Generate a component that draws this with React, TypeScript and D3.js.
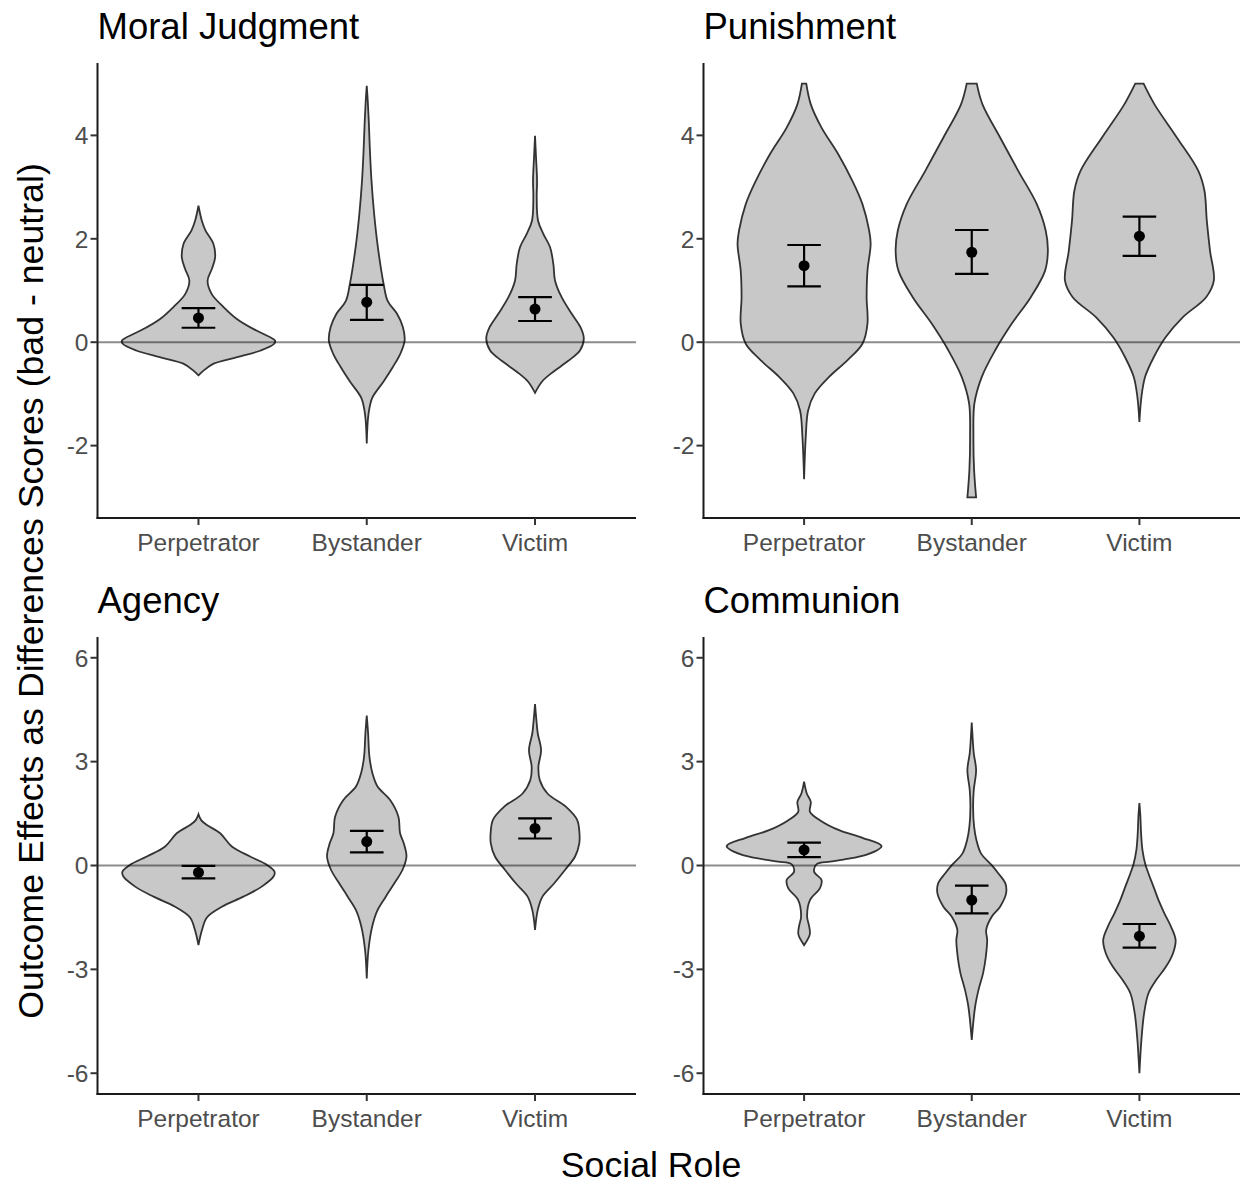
import * as d3 from 'd3';

// Social roles (x categories)
const roles = ['Perpetrator', 'Bystander', 'Victim'];
const panelTitles = ['Moral Judgment', 'Punishment', 'Agency', 'Communion'];

// y-axis ticks / data limits per row
const topTicks = [-2, 0, 2, 4];
const bottomTicks = [-6, -3, 0, 3, 6];
const topLimits = [-3, 5];
const bottomLimits = [-6, 6];

// means and error bar bounds, one value per role
const moralMeans = [0.47, 0.775, 0.64];
const moralLower = [0.28, 0.43, 0.41];
const moralUpper = [0.66, 1.11, 0.87];
const punishMeans = [1.48, 1.74, 2.05];
const punishLower = [1.08, 1.32, 1.67];
const punishUpper = [1.88, 2.17, 2.43];
const agencyMeans = [-0.2, 0.69, 1.07];
const agencyLower = [-0.37, 0.38, 0.78];
const agencyUpper = [-0.01, 1.0, 1.36];
const communionMeans = [0.45, -1.0, -2.04];
const communionLower = [0.24, -1.38, -2.37];
const communionUpper = [0.66, -0.58, -1.69];

// violin profiles: [score, half width as a share of the category step]
const moralPerp = [[-0.64, 0], [-0.55, 0.03], [-0.415, 0.09], [-0.29, 0.23], [-0.16, 0.37], [-0.03, 0.45], [0.03, 0.455], [0.16, 0.386], [0.22, 0.347], [0.45, 0.228], [0.68, 0.149], [0.93, 0.079], [1.19, 0.054], [1.42, 0.08], [1.64, 0.099], [1.9, 0.089], [2.16, 0.042], [2.35, 0.02], [2.64, 0]];
const moralBystander = [[-1.96, 0], [-1.4, 0.01], [-1.08, 0.032], [-0.76, 0.1], [-0.48, 0.155], [-0.22, 0.2], [0.03, 0.225], [0.29, 0.215], [0.55, 0.18], [0.8, 0.124], [1.13, 0.1], [1.84, 0.066], [2.48, 0.044], [3.13, 0.028], [3.77, 0.018], [4.28, 0.012], [4.67, 0.006], [4.96, 0]];
const moralVictim = [[-0.98, 0], [-0.76, 0.042], [-0.57, 0.109], [-0.36, 0.198], [-0.16, 0.267], [0.07, 0.29], [0.29, 0.27], [0.55, 0.218], [0.87, 0.158], [1.19, 0.119], [1.51, 0.109], [1.84, 0.089], [2.09, 0.05], [2.35, 0.018], [2.8, 0.01], [3.13, 0.012], [3.57, 0.006], [3.99, 0]];

const punishPerp = [[-2.65, 0], [-1.83, 0.01], [-1.32, 0.024], [-0.99, 0.064], [-0.67, 0.149], [-0.35, 0.258], [-0.03, 0.348], [0.36, 0.378], [0.87, 0.373], [1.38, 0.378], [1.9, 0.397], [2.16, 0.388], [2.67, 0.348], [3.12, 0.288], [3.64, 0.203], [4.15, 0.104], [4.6, 0.04], [5.0, 0.013]];
const punishBystander = [[-3.0, 0.026], [-2.47, 0.014], [-1.83, 0.01], [-1.18, 0.016], [-0.67, 0.06], [-0.16, 0.139], [0.36, 0.239], [0.87, 0.352], [1.38, 0.437], [1.77, 0.454], [2.16, 0.441], [2.67, 0.388], [3.31, 0.278], [3.96, 0.169], [4.6, 0.064], [5.0, 0.03]];
const punishVictim = [[-1.54, 0], [-1.06, 0.012], [-0.67, 0.034], [-0.3, 0.084], [0.09, 0.155], [0.48, 0.258], [0.87, 0.398], [1.19, 0.444], [1.77, 0.421], [2.35, 0.402], [2.93, 0.388], [3.31, 0.352], [3.96, 0.223], [4.6, 0.09], [5.0, 0.025]];

const agencyPerp = [[-2.3, 0], [-1.88, 0.02], [-1.5, 0.05], [-1.19, 0.139], [-0.9, 0.267], [-0.61, 0.376], [-0.32, 0.446], [-0.18, 0.452], [0.02, 0.406], [0.26, 0.307], [0.55, 0.198], [0.93, 0.129], [1.17, 0.05], [1.31, 0.016], [1.48, 0]];
const agencyBystander = [[-3.26, 0], [-2.44, 0.01], [-1.77, 0.032], [-1.29, 0.064], [-0.9, 0.113], [-0.52, 0.163], [-0.13, 0.212], [0.26, 0.236], [0.64, 0.22], [0.93, 0.198], [1.41, 0.188], [1.89, 0.139], [2.28, 0.064], [2.66, 0.034], [3.14, 0.016], [3.82, 0.008], [4.33, 0]];
const agencyVictim = [[-1.86, 0], [-1.29, 0.016], [-0.9, 0.044], [-0.52, 0.113], [-0.13, 0.178], [0.26, 0.238], [0.64, 0.263], [0.93, 0.264], [1.32, 0.25], [1.7, 0.183], [2.08, 0.074], [2.47, 0.028], [2.85, 0.02], [3.33, 0.036], [3.82, 0.016], [4.2, 0.008], [4.66, 0]];

const communionPerp = [[-2.3, 0], [-1.99, 0.034], [-1.75, 0.03], [-1.48, 0.018], [-1.0, 0.035], [-0.66, 0.094], [-0.42, 0.104], [-0.18, 0.06], [0.04, 0.075], [0.11, 0.155], [0.17, 0.234], [0.32, 0.378], [0.56, 0.462], [0.8, 0.348], [1.02, 0.209], [1.31, 0.094], [1.55, 0.035], [1.84, 0.04], [2.08, 0.016], [2.42, 0]];
const communionBystander = [[-5.04, 0], [-4.08, 0.02], [-3.6, 0.04], [-3.1, 0.068], [-2.63, 0.084], [-2.15, 0.092], [-1.86, 0.086], [-1.48, 0.119], [-1.19, 0.169], [-0.8, 0.205], [-0.51, 0.2], [-0.23, 0.159], [0.01, 0.119], [0.35, 0.055], [0.73, 0.028], [1.12, 0.014], [1.7, 0.008], [2.18, 0.012], [2.76, 0.026], [3.24, 0.012], [3.63, 0.006], [4.13, 0]];
const communionVictim = [[-6.0, 0], [-5.04, 0.012], [-4.27, 0.028], [-3.69, 0.054], [-3.31, 0.1], [-2.92, 0.159], [-2.54, 0.2], [-2.15, 0.216], [-1.77, 0.189], [-1.38, 0.149], [-1.0, 0.114], [-0.61, 0.084], [-0.23, 0.054], [0.06, 0.034], [0.45, 0.018], [0.93, 0.01], [1.41, 0.006], [1.8, 0]];

const W = 1244;
const H = 1186;
const FONT = "'Liberation Sans', Arial, Helvetica, sans-serif";
const TICK_GREY = '#4D4D4D';

const cols = [[97.5, 636], [703.5, 1240]];
const rows = [[63, 518], [637, 1094]];

type Profile = number[][];

interface Panel {
    title: string;
    col: number;
    row: number;
    limits: number[];
    ticks: number[];
    violins: Profile[];
    means: number[];
    lower: number[];
    upper: number[];
}

const panels: Panel[] = [
    { title: panelTitles[0], col: 0, row: 0, limits: topLimits, ticks: topTicks, violins: [moralPerp, moralBystander, moralVictim], means: moralMeans, lower: moralLower, upper: moralUpper },
    { title: panelTitles[1], col: 1, row: 0, limits: topLimits, ticks: topTicks, violins: [punishPerp, punishBystander, punishVictim], means: punishMeans, lower: punishLower, upper: punishUpper },
    { title: panelTitles[2], col: 0, row: 1, limits: bottomLimits, ticks: bottomTicks, violins: [agencyPerp, agencyBystander, agencyVictim], means: agencyMeans, lower: agencyLower, upper: agencyUpper },
    { title: panelTitles[3], col: 1, row: 1, limits: bottomLimits, ticks: bottomTicks, violins: [communionPerp, communionBystander, communionVictim], means: communionMeans, lower: communionLower, upper: communionUpper },
];

function PanelView({ p }: { p: Panel }) {
    const [x0, x1] = cols[p.col];
    const [top, bottom] = rows[p.row];
    const span = p.limits[1] - p.limits[0];
    const y = d3.scaleLinear()
        .domain([p.limits[0] - span * 0.05, p.limits[1] + span * 0.05])
        .range([bottom, top]);
    const x = d3.scalePoint<string>().domain(roles).range([x0, x1]).padding(0.6);
    const step = x.step();

    return (
        <g>
            <text x={x0} y={p.row === 0 ? 39 : 613} fontSize={36.5} fill="#000" fontFamily={FONT}>{p.title}</text>

            {p.violins.map((prof, i) => {
                const cx = x(roles[i]) as number;
                const area = d3.area<number[]>()
                    .y(d => y(d[0]))
                    .x0(d => cx - d[1] * step)
                    .x1(d => cx + d[1] * step)
                    .curve(d3.curveCatmullRom.alpha(0.5));
                return <path key={i} d={area(prof) || ''} fill="#C8C8C8" stroke="#333" strokeWidth={1.8} />;
            })}

            <line x1={x0} x2={x1} y1={y(0)} y2={y(0)} stroke="#000" strokeOpacity={0.45} strokeWidth={2} />

            {roles.map((r, i) => {
                const cx = x(r) as number;
                const hw = 0.1 * step;
                return (
                    <g key={r} stroke="#000" strokeWidth={2.2}>
                        <line x1={cx} x2={cx} y1={y(p.lower[i])} y2={y(p.upper[i])} />
                        <line x1={cx - hw} x2={cx + hw} y1={y(p.lower[i])} y2={y(p.lower[i])} />
                        <line x1={cx - hw} x2={cx + hw} y1={y(p.upper[i])} y2={y(p.upper[i])} />
                        <circle cx={cx} cy={y(p.means[i])} r={5.5} fill="#000" stroke="none" />
                    </g>
                );
            })}

            {/* axes */}
            <line x1={x0} x2={x0} y1={top} y2={bottom + 1} stroke="#1a1a1a" strokeWidth={2} />
            <line x1={x0 - 1} x2={x1} y1={bottom} y2={bottom} stroke="#1a1a1a" strokeWidth={2} />
            {p.ticks.map(t => (
                <g key={t}>
                    <line x1={x0 - 7} x2={x0} y1={y(t)} y2={y(t)} stroke="#333" strokeWidth={2} />
                    <text x={x0 - 9} y={y(t)} dy="0.36em" textAnchor="end" fontSize={24.5} fill={TICK_GREY} fontFamily={FONT}>{t}</text>
                </g>
            ))}
            {roles.map(r => (
                <g key={r}>
                    <line x1={x(r)} x2={x(r)} y1={bottom} y2={bottom + 7} stroke="#333" strokeWidth={2} />
                    <text x={x(r)} y={bottom + 33} textAnchor="middle" fontSize={24.5} fill={TICK_GREY} fontFamily={FONT}>{r}</text>
                </g>
            ))}
        </g>
    );
}

export default function App() {
    return (
        <>
            <style>{'body{margin:0;background:#fff}'}</style>
            <svg width={W} height={H} viewBox={`0 0 ${W} ${H}`} style={{ display: 'block', background: '#fff' }}>
                {panels.map(p => <PanelView key={p.title} p={p} />)}
                <text x={651} y={1177} textAnchor="middle" fontSize={35.7} fill="#000" fontFamily={FONT}>Social Role</text>
                <text transform="translate(43,591) rotate(-90)" textAnchor="middle" fontSize={35.7} fill="#000" fontFamily={FONT}>
                    Outcome Effects as Differences Scores (bad - neutral)
                </text>
            </svg>
        </>
    );
}
